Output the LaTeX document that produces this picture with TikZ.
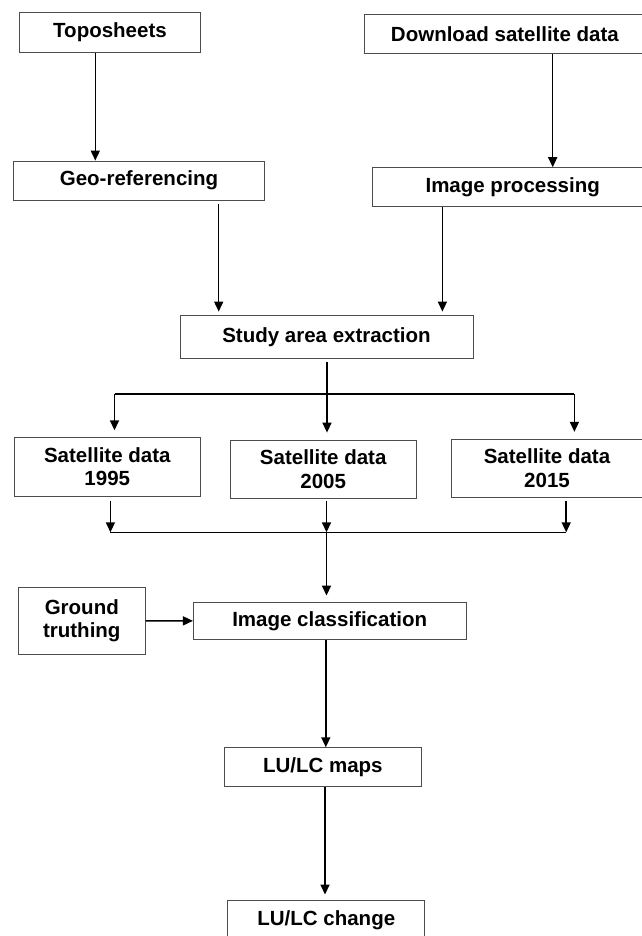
\documentclass[tikz,border=0pt]{standalone}
\usepackage{fontspec}
\setmainfont{Liberation Sans}
\usetikzlibrary{arrows.meta}

\begin{document}
\begin{tikzpicture}
  [ x=1pt, y=-1pt
  , stage/.style={rectangle, draw=black!70, line width=0.9pt, inner sep=0pt, align=center, font=\fontsize{20.5}{23.5}\selectfont\bfseries}
  , flow/.style={->, line width=1.5pt}
  , link/.style={line width=1.5pt}
  , >={Triangle[length=10pt, width=9pt]}]
  \useasboundingbox (0,0) rectangle (641,936);
  \node (0) at (110.0, 32.3) [stage, minimum width=180.7pt, minimum height=40pt] {Toposheets};
  \node (1) at (504.9, 33.8) [stage, minimum width=281.2pt, minimum height=39pt] {Download satellite data};
  \node (2) at (139.0, 180.7) [stage, minimum width=251pt, minimum height=39.3pt] {Geo-referencing};
  \node (3) at (512.7, 187.2) [stage, minimum width=280.6pt, minimum height=39pt] {Image processing};
  \node (4) at (326.5, 336.7) [stage, minimum width=293pt, minimum height=43.3pt] {Study area extraction};
  \node (5) at (107.3, 466.9) [stage, minimum width=186pt, minimum height=58.3pt] {Satellite data\\1995};
  \node (6) at (323.2, 469.2) [stage, minimum width=186pt, minimum height=58.3pt] {Satellite data\\2005};
  \node (7) at (547.0, 468.3) [stage, minimum width=192pt, minimum height=58pt] {Satellite data\\2015};
  \node (8) at (81.8, 620.8) [stage, minimum width=126.7pt, minimum height=67pt] {Ground\\truthing};
  \node (9) at (329.7, 621.0) [stage, minimum width=272.6pt, minimum height=36.6pt] {Image classification};
  \node (10) at (322.8, 767.2) [stage, minimum width=196.7pt, minimum height=39pt] {LU/LC maps};
  \node (11) at (326.3, 920.2) [stage, minimum width=197.1pt, minimum height=39pt] {LU/LC change};
  \coordinate (a1) at (114.5, 394);
  \coordinate (a2) at (327.0, 394);
  \coordinate (a3) at (574.4, 394);
  \coordinate (b1) at (110.4, 532.3);
  \coordinate (b2) at (326.5, 532.3);
  \coordinate (b3) at (566.2, 532.3);
  \draw [flow] (0.south -| 95.3,0) -- (2.north -| 95.3,0);
  \draw [flow] (1.south -| 552.7,0) -- (3.north -| 552.7,0);
  \draw [flow, shorten <=3.5pt, shorten >=3pt] (2.south -| 218.7,0) -- (4.north -| 218.7,0);
  \draw [flow, shorten >=3pt] (3.south -| 442.4,0) -- (4.north -| 442.4,0);
  \draw [link, shorten <=3pt] (4.south -| a2) -- (a2);
  \draw [link] (a1) -- (a3);
  \draw [flow, shorten >=7pt] (a1) -- (5.north -| a1);
  \draw [flow, shorten >=7pt] (a2) -- (6.north -| a2);
  \draw [flow, shorten >=7pt] (a3) -- (7.north -| a3);
  \draw [flow, shorten <=4pt] (5.south -| b1) -- (b1);
  \draw [flow, shorten <=2pt] (6.south -| b2) -- (b2);
  \draw [flow, shorten <=3.5pt] (7.south -| b3) -- (b3);
  \draw [link] (b1) -- (b3);
  \draw [flow, shorten >=6.7pt] (b2) -- (9.north -| b2);
  \draw [flow] (8) -- (9);
  \draw [flow] (9.south -| 325.8,0) -- (10.north -| 325.8,0);
  \draw [flow, shorten >=5.7pt] (10.south -| 325,0) -- (11.north -| 325,0);
\end{tikzpicture}
\end{document}
